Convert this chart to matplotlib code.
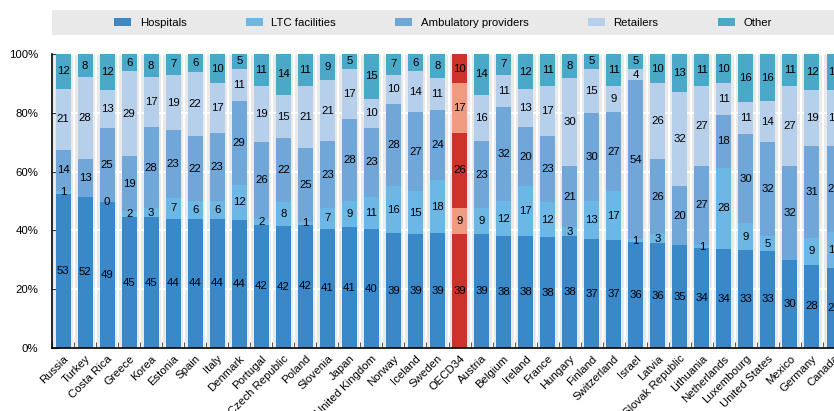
import matplotlib
matplotlib.use("Agg")
import matplotlib.pyplot as plt
from matplotlib import font_manager
from matplotlib.patches import Rectangle, Patch
import numpy as np

countries = ["Russia", "Turkey", "Costa Rica", "Greece", "Korea", "Estonia", "Spain", "Italy",
             "Denmark", "Portugal", "Czech Republic", "Poland", "Slovenia", "Japan",
             "United Kingdom", "Norway", "Iceland", "Sweden", "OECD34", "Austria", "Belgium",
             "Ireland", "France", "Hungary", "Finland", "Switzerland", "Israel", "Latvia",
             "Slovak Republic", "Lithuania", "Netherlands", "Luxembourg", "United States",
             "Mexico", "Germany", "Canada"]

hospitals = [53, 52, 49, 45, 45, 44, 44, 44, 44, 42, 42, 42, 41, 41, 40, 39, 39, 39, 39, 39,
             38, 38, 38, 38, 37, 37, 36, 36, 35, 34, 34, 33, 33, 30, 28, 27]
ltc = [1, None, 0, 2, 3, 7, 6, 6, 12, 2, 8, 1, 7, 9, 11, 16, 15, 18, 9, 9,
       12, 17, 12, 3, 13, 17, 1, 3, None, 1, 28, 9, 5, None, 9, 12]
ambulatory = [14, 13, 25, 19, 28, 23, 22, 23, 29, 26, 22, 25, 23, 28, 23, 28, 27, 24, 26, 23,
              32, 20, 23, 21, 30, 27, 54, 26, 20, 27, 18, 30, 32, 32, 31, 29]
retailers = [21, 28, 13, 29, 17, 19, 22, 17, 11, 19, 15, 21, 21, 17, 10, 10, 14, 11, 17, 16,
             11, 13, 17, 30, 15, 9, 4, 26, 32, 27, 11, 11, 14, 27, 19, 19]
other = [12, 8, 12, 6, 8, 7, 6, 10, 5, 11, 14, 11, 9, 5, 15, 7, 6, 8, 10, 14,
         7, 12, 11, 8, 5, 11, 5, 10, 13, 11, 10, 16, 16, 11, 12, 12]

series_names = ["Hospitals", "LTC facilities", "Ambulatory providers", "Retailers", "Other"]
series = [hospitals, ltc, ambulatory, retailers, other]
colors = ["#3b88c9", "#6cb7e6", "#71a6d9", "#b6d0ec", "#4ba8c8"]
highlight = "OECD34"
hl_colors = ["#cd3329", "#ee9b80", "#cd3329", "#ee9b80", "#cd3329"]

names = {f.name for f in font_manager.fontManager.ttflist}
fam = "Liberation Sans Narrow" if "Liberation Sans Narrow" in names else "Liberation Sans"
fs = 9.5 if fam == "Liberation Sans Narrow" else 8.2
plt.rcParams["font.family"] = [fam, "DejaVu Sans"]

W, H = 834, 411
fig = plt.figure(figsize=(W / 100, H / 100), dpi=100)
ax = fig.add_axes([52 / W, (H - 348) / H, 1 - 52 / W, (348 - 54) / H])

n = len(countries)
x = np.arange(n)
vals = np.array([[0 if v is None else v for v in s] for s in series], dtype=float)
tot = vals.sum(axis=0)
heights = vals / tot * 100
bottom = np.zeros(n)
width = 0.68
for k, (s, name) in enumerate(zip(series, series_names)):
    cols = [hl_colors[k] if c == highlight else colors[k] for c in countries]
    ax.bar(x, heights[k], width, bottom=bottom, color=cols, edgecolor="none", zorder=3)
    for i, v in enumerate(s):
        if v is not None:
            ax.text(x[i], bottom[i] + heights[k][i] / 2, str(v), ha="center", va="center",
                    fontsize=fs, color="black", zorder=4)
    bottom += heights[k]

ax.set_facecolor("#e9e9e9")
ax.set_yticks(np.arange(0, 101, 20))
ax.set_yticklabels([f"{v}%" for v in range(0, 101, 20)], fontsize=fs)
ax.set_xticks(x)
ax.set_xticklabels(countries, rotation=45, ha="right", rotation_mode="anchor", fontsize=fs)
ax.tick_params(axis="x", length=0, pad=4)
ax.set_xticks(np.arange(-0.5, n, 1), minor=True)
ax.tick_params(axis="x", which="minor", direction="in", length=4, color="#333333")
ax.tick_params(axis="y", direction="in", length=4, pad=10, color="#333333")
ax.set_xlim(-0.5, n - 1)
ax.set_ylim(0, 100)
ax.grid(True, axis="y", color="white", linewidth=1.5, zorder=1)
ax.grid(True, axis="x", which="minor", color="white", linewidth=1.5, zorder=1)
ax.grid(False, axis="x", which="major")
for sp in ["top", "right"]:
    ax.spines[sp].set_visible(False)
for sp in ["left", "bottom"]:
    ax.spines[sp].set_color("black")
    ax.spines[sp].set_linewidth(1.2)
    ax.spines[sp].set_zorder(5)

# legend band
fig.patches.append(Rectangle((52 / W, (H - 35.5) / H), 1 - 52 / W, 25.5 / H,
                             transform=fig.transFigure, facecolor="#e9e9e9",
                             edgecolor="none", zorder=0))
handles = [Patch(facecolor=c, edgecolor="none") for c in colors]
fig.legend(handles, series_names, loc="center", bbox_to_anchor=(443 / W, 1 - 22.8 / H),
           ncol=5, frameon=False, fontsize=fs, handlelength=1.5, handleheight=0.75,
           handletextpad=0.75, columnspacing=5.2, borderaxespad=0, borderpad=0)

fig.savefig("out.png", dpi=100)
